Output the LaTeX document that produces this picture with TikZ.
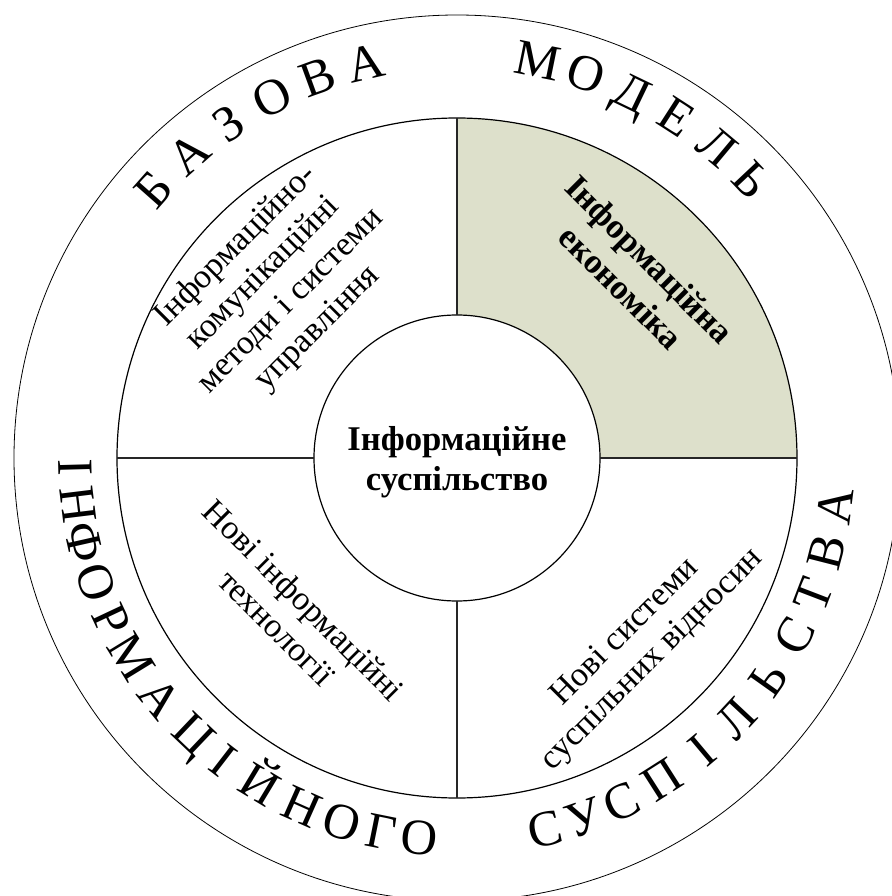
\documentclass[tikz,border=0pt]{standalone}
\usepackage{fontspec}
\setmainfont{Liberation Serif}
\usepackage{tikz}
\usetikzlibrary{positioning}

\definecolor{econfill}{RGB}{221,224,203}

\begin{document}
\begin{tikzpicture}[x=0.75pt, y=0.75pt, line join=round]

\tikzstyle{ring} = [draw=black, line width=0.9pt]
\tikzstyle{spoke} = [draw=black!85, line width=0.9pt]
\tikzstyle{sector} = [align=center, inner sep=0pt, font=\fontsize{25.5pt}{29pt}\selectfont]
\tikzstyle{hubtext} = [align=center, inner sep=0pt, font=\fontsize{26pt}{30pt}\selectfont\bfseries]
\tikzstyle{ringletter} = [inner sep=0pt, text height=0.66em, text depth=0pt,
    font=\fontsize{38pt}{38pt}\selectfont]

    \useasboundingbox (-457,-438) rectangle (435,458);
    \clip (-457,-438) rectangle (435,458);

    % Rings
    \draw[line width=0.6pt] (0,0) circle [radius=443];
    \fill[econfill] (0:143) -- (0:340) arc[start angle=0, end angle=90, radius=340]
        -- (90:143) arc[start angle=90, end angle=0, radius=143] -- cycle;
    \draw[ring] (0,0) circle [radius=340];
    \draw[ring, fill=white] (0,0) circle [radius=143];

    % Place nodes
    \node[hubtext] (hub) at (0,-4) {Інформаційне\\суспільство};
    \node[sector, rotate=45] (ictmeth) at (136.5:248)
        {Інформаційно-\\комунікаційні\\методи і системи\\управління};
    \node[hubtext, rotate=-45] (infecon) at (46:257) {Інформаційна\\економіка};
    \node[sector, rotate=-45] (newtech) at (223:228) {Нові інформаційні\\технології};
    \node[sector, rotate=45] (newrel) at (314:262) {Нові системи\\суспільних відносин};

    % Spokes between the inner and middle ring
    \foreach \a in {0,90,180,270}
        \draw[spoke] (\a:143) -- (\a:340);

    % Ring lettering
    \foreach \ch/\a [count=\i] in {Б/138.5, А/131.4, З/124.3, О/117.2, В/110.1, А/103.0,
        М/78.5, О/71.4, Д/64.3, Е/57.2, Л/50.1, Ь/43.3}
        \node[ringletter, rotate=\a-90] (top\i) at (\a:393) {\ch};
    \foreach \ch/\a [count=\i] in {І/181.5, Н/187.0, Ф/192.7, О/199.0, Р/205.2, М/211.5,
        А/219.0, Ц/226.4, І/232.3, Й/238.9, Н/246.0, О/252.5, Г/258.6, О/264.3,
        С/283.3, У/289.4, С/295.6, П/302.5, І/310.0, Л/317.0, Ь/324.6, С/332.2,
        Т/339.0, В/345.7, А/352.8}
        \node[ringletter, rotate=\a+90] (bot\i) at (\a:394) {\ch};
\end{tikzpicture}
\end{document}
